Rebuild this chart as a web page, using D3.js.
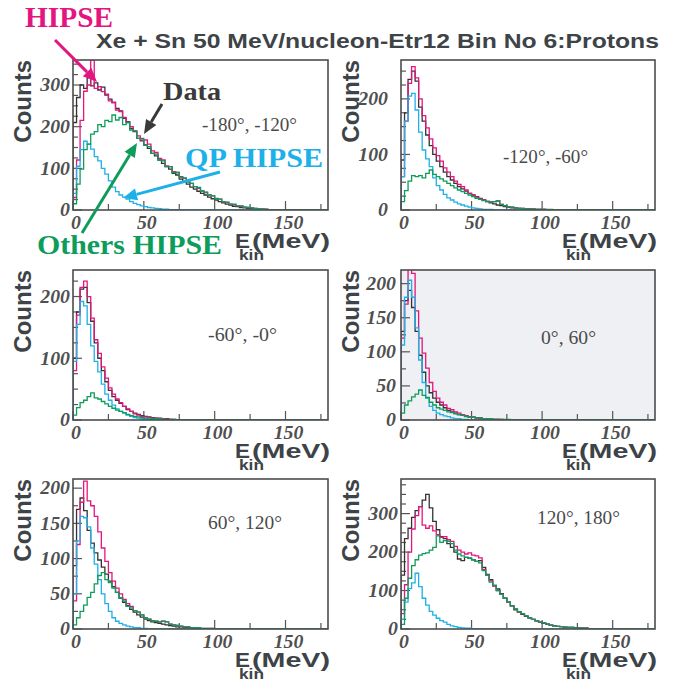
<!DOCTYPE html>
<html>
<head>
<meta charset="utf-8">
<script src="https://cdn.jsdelivr.net/npm/d3@7"></script>
<style>
  html, body { margin: 0; padding: 0; background: #fff; }
  svg { display: block; }
</style>
</head>
<body>
<svg id="chart" width="676" height="682"></svg>
<script>
// ---- data: counts per 2.5 MeV bin, starting at 0 MeV ----
const binWidth = 2.5;
const eMax = 180;

const dataP1 = [210,270,300,292,318,298,305,288,295,276,266,258,244,238,220,212,196,188,172,166,156,148,136,130,120,112,104,98,88,84,74,68,62,55,50,45,40,36,31,27,24,20,17,14,12,9,8,6,5,4,3,3,2,2,1,1,1,1];
const hipseP1 = [30,120,215,285,300,360,292,296,284,278,262,258,240,236,222,210,200,190,178,168,168,158,142,138,124,120,106,104,92,90,80,76,68,64,56,52,46,42,36,34,28,26,20,18,14,13,10,9,7,6,5,4,3,2,2,1,1,1];
const qpP1 = [40,105,145,165,158,146,128,118,100,86,70,55,44,36,31,26,20,16,13,10,8,6,5,4,3,2,2,1,1,1];
const othersP1 = [15,62,98,145,158,182,188,205,200,215,212,228,216,222,205,210,192,190,172,172,155,152,136,134,120,118,104,104,90,90,78,77,67,64,56,54,45,43,36,34,27,26,20,19,14,14,10,10,7,6,5,4,3,2,2,1,1,1];

const dataP2 = [90,175,235,250,232,185,160,135,116,100,88,78,68,60,54,48,42,38,34,30,27,24,21,18,15,13,11,9,8,6,5,4,4,3,2,2,2,1,1,1,1];
const hipseP2 = [60,160,228,258,238,200,170,148,128,112,98,88,76,68,60,52,46,42,36,30,26,23,20,18,16,15,15,16,10,8,6,5,4,3,3,2,2,2,1,1,1];
const qpP2 = [60,160,205,210,180,140,108,92,78,58,44,36,28,22,18,14,11,9,7,5,4,3,2,1,1,1];
const othersP2 = [15,35,52,62,60,62,58,66,72,64,60,56,52,48,44,40,36,33,30,27,24,21,19,17,15,14,15,17,10,8,6,5,4,3,3,2,2,2,1,1,1,1,1];

const dataP3 = [100,175,212,215,190,160,125,100,80,62,48,38,32,27,22,17,14,11,9,7,6,5,4,3,3,2,2,1,1];
const hipseP3 = [80,170,215,225,200,165,130,108,86,68,52,42,34,28,22,18,14,10,8,6,5,4,3,3,2,2,1,1];
const qpP3 = [95,155,192,185,155,120,95,78,58,42,32,24,18,14,11,8,6,4,3,2,2,1,1];
const othersP3 = [8,20,28,32,38,44,36,34,30,26,22,19,16,14,12,9,7,6,5,4,3,3,2,2,2,1,1,1,1];

const dataP4 = [130,175,190,165,130,95,70,50,40,32,26,22,18,14,12,10,8,7,6,5,4,3,3,2,2,1,1,1];
const hipseP4 = [120,170,222,215,160,120,98,76,55,42,32,26,22,17,15,12,10,8,6,5,4,3,2,2,2,1,1,1,1];
const qpP4 = [110,180,205,180,135,88,55,32,20,14,10,8,6,5,3,2,2,1,1];
const othersP4 = [10,22,28,34,38,44,36,33,26,22,18,16,14,12,11,9,8,7,5,4,4,3,3,2,2,2,1,1,1,1,1];

const dataP5 = [90,170,186,168,140,122,108,98,88,78,68,60,52,44,38,33,28,24,20,17,14,12,10,9,8,7,6,5,4,3,3,2,2,1,1,1];
const hipseP5 = [40,120,180,210,182,175,160,138,115,96,80,68,58,50,42,36,32,26,24,20,16,14,12,11,10,11,10,7,6,5,4,3,3,2,2,2,1,1,1,1];
const qpP5 = [50,125,160,158,145,115,92,70,50,36,25,16,11,8,6,4,3,2,2,1,1];
const othersP5 = [6,16,25,34,45,52,64,76,80,70,66,58,52,44,40,32,30,26,24,20,16,14,12,11,10,11,10,7,6,5,4,3,3,2,2,2,1,1,1,1];

const dataP6 = [140,235,262,290,308,318,335,350,315,280,258,240,235,222,212,200,182,178,186,184,180,176,178,160,142,128,112,104,92,80,70,60,50,44,38,33,29,25,21,18,15,12,10,8,7,6,5,4,4,3,3,2,2,1,1,1,1];
const hipseP6 = [40,115,200,260,295,318,270,262,268,255,245,238,240,232,228,215,205,200,195,198,192,190,185,155,140,125,112,100,90,80,70,60,52,45,40,34,29,25,21,18,16,13,10,8,7,6,5,4,4,3,3,2,2,1,1];
const qpP6 = [25,70,105,120,145,110,80,62,46,36,28,22,18,12,8,6,4,3,2,2,1,1];
const othersP6 = [12,80,132,165,180,192,196,198,205,212,242,225,230,228,222,205,195,190,186,184,180,176,172,152,140,122,114,100,90,80,70,60,52,45,40,34,29,25,21,18,16,13,10,8,7,6,5,4,4,3,3,2,2,1,1];

const panelAngles = ['-180°, -120°', '-120°, -60°', '-60°, -0°', '0°, 60°', '60°, 120°', '120°, 180°'];
const panelYMax = [360, 270, 243, 220, 213, 390];
const panelYStep = [100, 100, 100, 50, 50, 100];
const xTickLabels = [0, 50, 100, 150];

const title = 'Xe + Sn 50 MeV/nucleon-Etr12 Bin No 6:Protons';

// ---- layout ----
const colX = [73, 401], colW = [255, 254];
const rowY = [60, 270, 479], rowH = 150;
// angle label: dx, dy (center) from frame corner, and drawn width
const anglePos = [[129, 65, 95], [102, 97, 85], [135, 65, 69], [140, 68, 55], [135, 44, 74], [136, 39, 83]];
const yLabelGap = [3, 13, 3, 5, 3, 3];

const colors = { data: '#333333', hipse: '#e3157f', qp: '#1eb0e8', others: '#0d9c5a' };
const sansB = '"Liberation Sans", Arial, sans-serif';
const serif = '"Liberation Serif", "Times New Roman", serif';
const textGray = '#3d4347';

const panels = [
  { data: dataP1, hipse: hipseP1, qp: qpP1, others: othersP1 },
  { data: dataP2, hipse: hipseP2, qp: qpP2, others: othersP2 },
  { data: dataP3, hipse: hipseP3, qp: qpP3, others: othersP3 },
  { data: dataP4, hipse: hipseP4, qp: qpP4, others: othersP4 },
  { data: dataP5, hipse: hipseP5, qp: qpP5, others: othersP5 },
  { data: dataP6, hipse: hipseP6, qp: qpP6, others: othersP6 },
];

const svg = d3.select('#chart');

// horizontally stretch text like the original (wide rendering)
function stretch(sel, k) {
  sel.each(function () {
    const w = this.getComputedTextLength();
    d3.select(this).attr('textLength', w * k).attr('lengthAdjust', 'spacingAndGlyphs');
  });
}

function histPoints(vals) {
  const pts = [[0, 0]];
  vals.forEach((v, i) => pts.push([i * binWidth, v]));
  pts.push([vals.length * binWidth, 0]);
  pts.push([eMax, 0]);
  return pts;
}

svg.append('text')
  .attr('x', 96).attr('y', 48)
  .attr('font-family', sansB).attr('font-weight', 'bold').attr('font-size', 21)
  .attr('fill', textGray)
  .attr('textLength', 563).attr('lengthAdjust', 'spacingAndGlyphs')
  .text(title);

panels.forEach((p, i) => {
  const col = i % 2, row = Math.floor(i / 2);
  const x0 = colX[col], w = colW[col], y0 = rowY[row], h = rowH;
  const x = d3.scaleLinear().domain([0, eMax]).range([x0, x0 + w]);
  const y = d3.scaleLinear().domain([0, panelYMax[i]]).range([y0 + h, y0]);
  const g = svg.append('g');

  g.append('clipPath').attr('id', 'clip' + i)
    .append('rect').attr('x', x0).attr('y', y0).attr('width', w).attr('height', h);

  g.append('rect')
    .attr('x', x0).attr('y', y0).attr('width', w).attr('height', h)
    .attr('fill', i === 3 ? '#eef0f3' : '#fff');

  // x ticks (inward)
  const xt = d3.range(0, eMax + 0.1, 25);
  g.selectAll('line.xt').data(xt).join('line')
    .attr('x1', d => x(d)).attr('x2', d => x(d))
    .attr('y1', y0 + h).attr('y2', d => y0 + h - (d % 50 === 0 ? 9 : 6))
    .attr('stroke', '#555').attr('stroke-width', 1.2);

  // y ticks (inward)
  const yt = d3.range(0, panelYMax[i] + 0.1, 25);
  g.selectAll('line.yt').data(yt).join('line')
    .attr('x1', x0).attr('x2', d => x0 + (d % panelYStep[i] === 0 ? 9 : 5))
    .attr('y1', d => y(d)).attr('y2', d => y(d))
    .attr('stroke', '#555').attr('stroke-width', 1.2);

  // histograms
  const line = d3.line().x(d => x(d[0])).y(d => y(d[1])).curve(d3.curveStepAfter);
  const hg = g.append('g').attr('clip-path', `url(#clip${i})`);
  ['data', 'hipse', 'qp', 'others'].forEach(k => {
    hg.append('path')
      .attr('d', line(histPoints(p[k])))
      .attr('fill', 'none')
      .attr('stroke', colors[k])
      .attr('stroke-width', 1.3);
  });

  g.append('rect')
    .attr('x', x0).attr('y', y0).attr('width', w).attr('height', h)
    .attr('fill', 'none').attr('stroke', '#4d4d4d').attr('stroke-width', 1.6);

  // y tick labels
  const yl = g.selectAll('text.yl').data(d3.range(0, panelYMax[i] + 0.1, panelYStep[i])).join('text')
    .attr('x', x0 - yLabelGap[i]).attr('y', d => y(d)).attr('dy', '0.35em')
    .attr('text-anchor', 'end')
    .attr('font-family', serif).attr('font-style', 'italic').attr('font-weight', 'bold').attr('font-size', 18)
    .attr('fill', '#505050')
    .text(d => d);
  stretch(yl, 1.1);

  // x tick labels
  const xl = g.selectAll('text.xl').data(xTickLabels).join('text')
    .attr('x', d => x(d) + 3).attr('y', y0 + h + 19)
    .attr('text-anchor', 'middle')
    .attr('font-family', serif).attr('font-style', 'italic').attr('font-weight', 'bold').attr('font-size', 18)
    .attr('fill', '#505050')
    .text(d => d);
  stretch(xl, 1.1);

  // axis titles
  g.append('text')
    .attr('transform', `translate(${x0 - 42},${y0}) rotate(-90)`)
    .attr('text-anchor', 'end')
    .attr('font-family', sansB).attr('font-weight', 'bold').attr('font-size', 24)
    .attr('fill', textGray)
    .text('Counts');

  g.append('text')
    .attr('x', x0 + w - 93).attr('y', y0 + h + 38)
    .attr('font-family', sansB).attr('font-weight', 'bold').attr('font-size', 21)
    .attr('fill', textGray)
    .attr('textLength', 15).attr('lengthAdjust', 'spacingAndGlyphs')
    .text('E');
  g.append('text')
    .attr('x', x0 + w - 89).attr('y', y0 + h + 50)
    .attr('font-family', sansB).attr('font-weight', 'bold').attr('font-size', 15)
    .attr('fill', textGray)
    .attr('textLength', 25).attr('lengthAdjust', 'spacingAndGlyphs')
    .text('kin');
  g.append('text')
    .attr('x', x0 + w + 2).attr('y', y0 + h + 38)
    .attr('text-anchor', 'end')
    .attr('font-family', sansB).attr('font-weight', 'bold').attr('font-size', 21)
    .attr('fill', textGray)
    .attr('textLength', 78).attr('lengthAdjust', 'spacingAndGlyphs')
    .text('(MeV)');

  // angle range label
  const ap = anglePos[i];
  g.append('text')
    .attr('x', x0 + ap[0]).attr('y', y0 + ap[1] + 6)
    .attr('font-family', serif).attr('font-size', 18)
    .attr('fill', '#4a4a4a')
    .attr('textLength', ap[2]).attr('lengthAdjust', 'spacingAndGlyphs')
    .text(panelAngles[i]);
});

// ---- annotations on the first panel ----
const notes = [
  { text: 'HIPSE', x: 25, y: 27, size: 30, width: 88, color: colors.hipse, arrow: [[55, 40], [97, 82]] },
  { text: 'Data', x: 163, y: 100, size: 25, width: 58, color: '#3a3a3a', arrow: [[162, 104], [144, 134]] },
  { text: 'QP HIPSE', x: 185, y: 167, size: 27, width: 138, color: colors.qp, arrow: [[220, 172], [123, 198]] },
  { text: 'Others HIPSE', x: 37, y: 254, size: 27, width: 185, color: colors.others, arrow: [[82, 233], [137, 143]] },
];

notes.forEach(n => {
  svg.append('text')
    .attr('x', n.x).attr('y', n.y)
    .attr('font-family', serif).attr('font-weight', 'bold').attr('font-size', n.size)
    .attr('fill', n.color)
    .attr('textLength', n.width).attr('lengthAdjust', 'spacingAndGlyphs')
    .text(n.text);
  const [[ax, ay], [bx, by]] = n.arrow;
  const ang = Math.atan2(by - ay, bx - ax);
  const L = 14, W = 6;
  const cx = bx - L * Math.cos(ang), cy = by - L * Math.sin(ang);
  svg.append('line')
    .attr('x1', ax).attr('y1', ay).attr('x2', cx).attr('y2', cy)
    .attr('stroke', n.color).attr('stroke-width', 3);
  svg.append('path')
    .attr('d', `M${bx},${by}L${cx - W * Math.sin(ang)},${cy + W * Math.cos(ang)}L${cx + W * Math.sin(ang)},${cy - W * Math.cos(ang)}Z`)
    .attr('fill', n.color);
});
</script>
</body>
</html>
